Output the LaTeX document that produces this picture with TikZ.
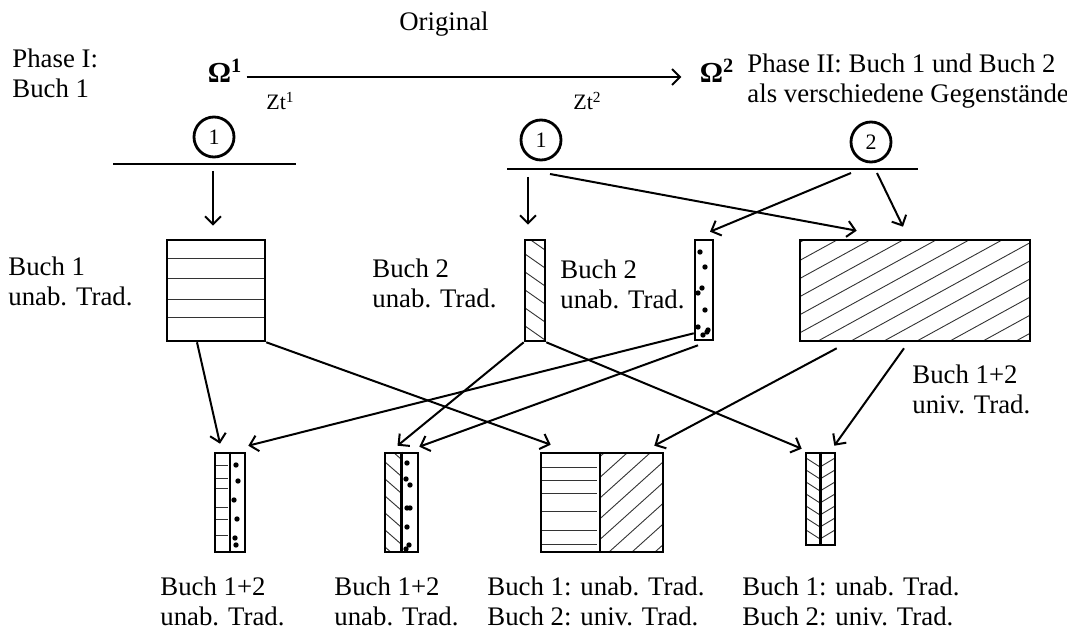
\documentclass[tikz,border=0pt]{standalone}
\usepackage{fontspec}
\setmainfont{Liberation Serif}
\usetikzlibrary{arrows.meta}
\tikzset{
  box/.style={draw, line width=1.3pt, inner sep=0pt},
  fine/.style={line width=0.45pt, black!80},
  arr/.style={-{Straight Barb[length=4pt,width=8pt]}, line width=1pt},
  rule/.style={line width=1.1pt},
  num/.style={circle, draw, line width=1.4pt, minimum size=20pt, inner sep=0pt, font=\fontsize{11}{13}\selectfont},
  lbl/.style={anchor=base west, align=left, inner sep=0pt},
  omega/.style={anchor=base, inner sep=2pt, font=\fontsize{14.5}{16}\selectfont\bfseries},
}
\begin{document}
\begin{tikzpicture}[x=0.5pt, y=-0.5pt, font=\fontsize{13.4}{15}\selectfont]
    \useasboundingbox (0,0) rectangle (1067,631);
    \begin{scope}
        \clip (800,240) rectangle (1030,341);
        \foreach \x in {620,653,...,1030}
            \draw[fine] (\x,341) -- ++(184,-101);
    \end{scope}
    \foreach \y in {258,278,299,317}
        \draw[fine] (167,\y) -- (265,\y);
    \begin{scope}
        \clip (525,240) rectangle (545,341);
        \foreach \y in {236,254,...,340}
            \draw[fine] (525,\y) -- ++(20,14);
    \end{scope}
    \foreach \p in {(700,252),(705,267),(702,288),(698,293),(705,310),(698,327),(703,335),(707,332),(708,330)}
        \fill \p circle[radius=2.7];
    \foreach \y in {465,478,488,507,519,535}
        \draw[fine] (215,\y) -- (228,\y);
    \foreach \p in {(236,465),(238,481),(234,500),(237,519),(235,538),(236,545)}
        \fill \p circle[radius=2.7];
    \begin{scope}
        \clip (385,453) rectangle (401,552);
        \foreach \y in {445,462,...,552}
            \draw[fine] (385,\y) -- ++(16,14);
    \end{scope}
    \foreach \p in {(407,463),(406,479),(410,485),(407,508),(410,508),(407,527),(409,545),(406,549)}
        \fill \p circle[radius=2.7];
    \foreach \y in {467,480,493,511,530,544}
        \draw[fine] (541,\y) -- (597,\y);
    \begin{scope}
        \clip (600,453) rectangle (663,552);
        \foreach \x in {494,517,...,663}
            \draw[fine] (\x,552) -- ++(110,-99);
    \end{scope}
    \begin{scope}
        \clip (806,453) rectangle (835,545);
        \foreach \y in {458,470,...,540}
            \draw[fine] (806,\y) -- ++(14,9);
        \foreach \y in {467,479,...,549}
            \draw[fine] (820,\y) -- ++(15,-9);
    \end{scope}

    \node[lbl] (ph1) at (12,98) {Phase I:\\Buch 1};
    \node[anchor=base] (orig) at (444,31) {Original};
    \node[omega] (o1) at (225,83) {Ω\textsuperscript{1}};
    \node[omega] (o2) at (717,83) {Ω\textsuperscript{2}};
    \node[lbl] (ph2) at (747,103) {Phase II: Buch 1 und Buch 2\\als verschiedene Gegenstände};
    \node[anchor=base west, inner sep=0pt, font=\fontsize{11}{13}\selectfont] (zt1) at (266,110) {Zt\textsuperscript{1}};
    \node[anchor=base west, inner sep=0pt, font=\fontsize{11}{13}\selectfont] (zt2) at (573,110) {Zt\textsuperscript{2}};
    \draw[arr] ([yshift=3pt]o1.base east) -- ([xshift=-7pt,yshift=3pt]o2.base west);

    \node[num] (n1) at (214,137) {1};
    \node[num] (n1b) at (541,140) {1};
    \node[num] (n2) at (871,142) {2};
    \coordinate (r1a) at (113,164);
    \coordinate (r1b) at (296,164);
    \coordinate (r2a) at (507,169);
    \coordinate (r2b) at (918,169);
    \draw[rule] (r1a) -- (r1b);
    \draw[rule] (r2a) -- (r2b);

    \node[box, minimum width=49pt, minimum height=50.5pt] (b1) at (216,290.5) {};
    \node[box, minimum width=10pt, minimum height=50.5pt] (b2) at (535,290.5) {};
    \node[box, minimum width=9pt, minimum height=50pt] (b3) at (704,290) {};
    \node[box, minimum width=115pt, minimum height=50.5pt] (b4) at (915,290.5) {};
    \node[box, minimum width=15pt, minimum height=49.5pt] (c1) at (230,502.5) {};
    \node[box, minimum width=16.5pt, minimum height=49.5pt] (c2) at (401.5,502.5) {};
    \node[box, minimum width=61pt, minimum height=49.5pt] (c3) at (602,502.5) {};
    \node[box, minimum width=14.5pt, minimum height=46pt] (c4) at (820.5,499) {};
    \draw[line width=1.2pt] (c1.north) -- (c1.south);
    \draw[line width=1.2pt] (c2.north) -- (c2.south);
    \draw[line width=1.2pt] ([xshift=-1pt]c3.north) -- ([xshift=-1pt]c3.south);
    \draw[line width=1.2pt] (c4.north) -- (c4.south);

    \coordinate (s1) at (213,171);
    \coordinate (s2) at (528,177);
    \coordinate (s3) at (550,174);
    \coordinate (s4) at (851,173);
    \coordinate (s5) at (877,173);
    \draw[arr] (s1) -- ([xshift=-1.5pt,yshift=6.5pt]b1.north);
    \draw[arr] (s2) -- ([xshift=-3.5pt,yshift=7pt]b2.north);
    \draw[arr] (s3) -- ([xshift=29pt,yshift=4pt]b4.north west);
    \draw[arr] (s4) -- ([xshift=3pt,yshift=3.5pt]b3.north);
    \draw[arr] (s5) -- ([xshift=-6pt,yshift=6pt]b4.north);

    \draw[arr] ([xshift=-9.5pt]b1.south) -- ([xshift=-5pt,yshift=4pt]c1.north);
    \draw[arr] (b1.south east) -- ([xshift=5.5pt,yshift=3.5pt]c3.north west);
    \draw[arr] (b2.south west) -- ([xshift=-2pt,yshift=3pt]c2.north);
    \draw[arr] (b2.south east) -- ([xshift=-1.5pt,yshift=1.5pt]c4.north west);
    \draw[arr] ([yshift=4pt]b3.south west) -- ([xshift=1pt,yshift=3pt]c1.north east);
    \draw[arr] ([xshift=-3pt,yshift=-2pt]b3.south) -- ([yshift=2.5pt]c2.north east);
    \draw[arr] ([xshift=19pt,yshift=-3pt]b4.south west) -- ([xshift=-5pt,yshift=3pt]c3.north east);
    \draw[arr] ([xshift=-5.5pt,yshift=-3pt]b4.south) -- ([xshift=-1pt,yshift=3pt]c4.north east);

    \node[lbl] (l1) at (8,306) {Buch 1\\unab. Trad.};
    \node[lbl] (l2) at (372,307) {Buch 2\\unab. Trad.};
    \node[lbl] (l3) at (560,308) {Buch 2\\unab. Trad.};
    \node[lbl] (l4) at (912,413) {Buch 1+2\\univ. Trad.};
    \node[lbl] (l5) at (160,625) {Buch 1+2\\unab. Trad.};
    \node[lbl] (l6) at (334,625) {Buch 1+2\\unab. Trad.};
    \node[lbl] (l7) at (487,625) {Buch 1: unab. Trad.\\Buch 2: univ. Trad.};
    \node[lbl] (l8) at (742,625) {Buch 1: unab. Trad.\\Buch 2: univ. Trad.};
\end{tikzpicture}
\end{document}
